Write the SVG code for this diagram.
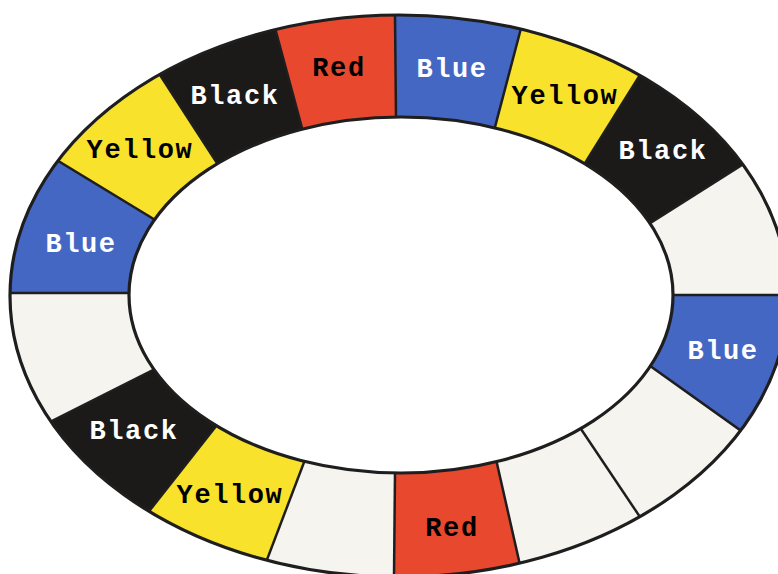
<svg xmlns="http://www.w3.org/2000/svg" width="778" height="574" viewBox="0 0 778 574">
<defs>
<clipPath id="ring"><path clip-rule="evenodd" d="M10,296 A389,281 0 1,0 788,296 A389,281 0 1,0 10,296 Z M129,295 A272,178 0 1,1 673,295 A272,178 0 1,1 129,295 Z"/></clipPath>
</defs>
<style>
.red{fill:#e8482e}.blue{fill:#4467c4}.yellow{fill:#f8e22c}.black{fill:#1b1a19}.white{fill:#f6f4ef}
.div{stroke:#1e1e1e;stroke-width:2.5;fill:none}
.edge{stroke:#1e1e1e;stroke-width:3.2;fill:none}
text{font-family:"Liberation Mono","Courier New",monospace;font-weight:bold;font-size:27px;letter-spacing:1.6px;text-anchor:middle}
.tw{fill:#ffffff}.tb{fill:#000000}
</style>
<rect width="778" height="574" fill="#ffffff"/>
<g clip-path="url(#ring)">
<g id="s1"><polygon class="blue" points="396.5,168 394.5,-36 532.5,-15.5 482.5,174.5"/></g>
<g id="s2"><polygon class="yellow" points="482.5,174.5 532.5,-15.5 666.5,32.5 560.5,202.5"/></g>
<g id="s3"><polygon class="black" points="560.5,202.5 666.5,32.5 787,136.5 607,250.5"/></g>
<g id="s4"><polygon class="white" points="607,250.5 787,136.5 844,295 616,295"/></g>
<g id="s5"><polygon class="blue" points="616,295 844,295 783.5,461 609.5,337"/></g>
<g id="s6"><polygon class="white" points="609.5,337 783.5,461 668.5,559.5 554.5,389.5"/></g>
<g id="s7"><polygon class="white" points="554.5,389.5 668.5,559.5 531,613.5 487,419.5"/></g>
<g id="s8"><polygon class="red" points="487,419.5 531,613.5 393.5,629 395.5,421"/></g>
<g id="s9"><polygon class="white" points="395.5,421 393.5,629 250.5,603 320.5,419"/></g>
<g id="s10"><polygon class="yellow" points="320.5,419 250.5,603 118.5,550 244.5,390"/></g>
<g id="s11"><polygon class="black" points="244.5,390 118.5,550 10.5,442 200.5,346"/></g>
<g id="s12"><polygon class="white" points="200.5,346 10.5,442 -50,293 190,293"/></g>
<g id="s13"><polygon class="blue" points="190,293 -50,293 14,134 198,246"/></g>
<g id="s14"><polygon class="yellow" points="198,246 14,134 134.5,35.5 244.5,205.5"/></g>
<g id="s15"><polygon class="black" points="244.5,205.5 134.5,35.5 261.5,-22 315.5,178"/></g>
<g id="s16"><polygon class="red" points="315.5,178 261.5,-22 394.5,-36 396.5,168"/></g>
<g id="connectors">
<line class="div" x1="396.5" y1="168" x2="394.5" y2="-36"/>
<line class="div" x1="482.5" y1="174.5" x2="532.5" y2="-15.5"/>
<line class="div" x1="560.5" y1="202.5" x2="666.5" y2="32.5"/>
<line class="div" x1="607" y1="250.5" x2="787" y2="136.5"/>
<line class="div" x1="616" y1="295" x2="844" y2="295"/>
<line class="div" x1="609.5" y1="337" x2="783.5" y2="461"/>
<line class="div" x1="554.5" y1="389.5" x2="668.5" y2="559.5"/>
<line class="div" x1="487" y1="419.5" x2="531" y2="613.5"/>
<line class="div" x1="395.5" y1="421" x2="393.5" y2="629"/>
<line class="div" x1="320.5" y1="419" x2="250.5" y2="603"/>
<line class="div" x1="244.5" y1="390" x2="118.5" y2="550"/>
<line class="div" x1="200.5" y1="346" x2="10.5" y2="442"/>
<line class="div" x1="190" y1="293" x2="-50" y2="293"/>
<line class="div" x1="198" y1="246" x2="14" y2="134"/>
<line class="div" x1="244.5" y1="205.5" x2="134.5" y2="35.5"/>
<line class="div" x1="315.5" y1="178" x2="261.5" y2="-22"/>
</g>
</g>
<ellipse class="edge" cx="399" cy="296" rx="389" ry="281"/>
<ellipse class="edge" cx="401" cy="295" rx="272" ry="178"/>
<g id="labels">
<text class="tb" x="339" y="76">Red</text>
<text class="tw" x="452" y="77">Blue</text>
<text class="tb" x="565" y="104">Yellow</text>
<text class="tw" x="663" y="159">Black</text>
<text class="tw" x="235" y="104">Black</text>
<text class="tb" x="140" y="158">Yellow</text>
<text class="tw" x="81" y="252">Blue</text>
<text class="tw" x="723" y="359">Blue</text>
<text class="tw" x="134" y="439">Black</text>
<text class="tb" x="230" y="503">Yellow</text>
<text class="tb" x="452" y="536">Red</text>
</g>
</svg>
